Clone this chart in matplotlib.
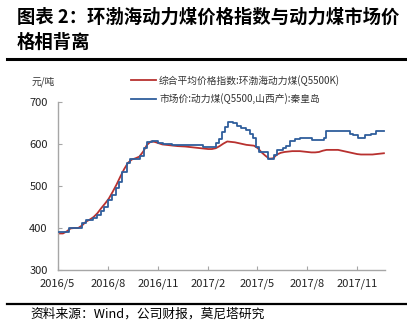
import matplotlib
matplotlib.use("Agg")
import matplotlib.pyplot as plt
import numpy as np
import pandas as pd

plt.rcParams['font.family'] = ['Noto Sans CJK SC', 'DejaVu Sans']

# ---- data ----
# Index (weekly, Wednesdays)
index_start = "2016-05-04"
index_values = [387, 387, 392, 399, 400, 400, 406, 415, 420, 426,
                435, 447, 458, 470, 486, 503, 522, 540, 555, 563,
                566, 570, 582, 598, 606, 605, 602, 599, 598, 597,
                596, 595, 594.5, 594, 593, 592, 591, 590, 589, 588,
                588, 590, 595, 601, 606, 605, 604, 602, 600, 598,
                597, 596, 590, 580, 572, 565, 566, 575, 579, 581,
                582, 583, 583, 583, 582, 581, 580, 580, 581, 584,
                586, 586, 586, 586, 584, 582, 580, 578, 576, 575,
                575, 575, 575, 576, 577, 578]

# Market price (change points, step series)
market_dates = ["2016-05-04", "2016-05-22", "2016-06-15", "2016-06-22", "2016-07-05",
                "2016-07-12", "2016-07-20", "2016-07-25", "2016-08-02", "2016-08-09",
                "2016-08-16", "2016-08-22", "2016-08-27", "2016-09-05", "2016-09-11",
                "2016-09-29", "2016-10-07", "2016-10-12", "2016-10-21", "2016-11-01",
                "2016-11-10", "2016-11-27", "2017-01-23", "2017-02-15", "2017-02-21",
                "2017-02-26", "2017-03-04", "2017-03-09", "2017-03-19", "2017-03-26",
                "2017-04-02", "2017-04-11", "2017-04-19", "2017-04-24", "2017-04-29",
                "2017-05-05", "2017-05-22", "2017-06-02", "2017-06-07", "2017-06-18",
                "2017-06-24", "2017-07-01", "2017-07-10", "2017-07-20", "2017-08-11",
                "2017-09-02", "2017-09-05", "2017-10-19", "2017-10-25", "2017-11-03",
                "2017-11-16", "2017-11-27", "2017-12-06", "2017-12-20"]
market_values = [390, 400, 413, 418, 425,
                 432, 440, 450, 467, 479,
                 495, 510, 534, 554, 564,
                 572, 590, 605, 608, 602,
                 600, 597, 592, 602, 613,
                 629, 641, 652, 649, 644,
                 639, 633, 625, 614, 594,
                 580, 564, 574, 586, 590,
                 596, 606, 612, 614, 610,
                 615, 631, 625, 621, 615,
                 621, 625, 631, 631]

series_labels = ["综合平均价格指数:环渤海动力煤(Q5500K)",
                 "市场价:动力煤(Q5500,山西产):秦皇岛"]
tick_labels = ["2016/5", "2016/8", "2016/11", "2017/2", "2017/5", "2017/8", "2017/11"]
tick_dates = ["2016-05-01", "2016-08-01", "2016-11-01", "2017-02-01",
              "2017-05-01", "2017-08-01", "2017-11-01"]
title_lines = ["图表 2：环渤海动力煤价格指数与动力煤市场价", "格相背离"]
source_text = "资料来源：Wind，公司财报，莫尼塔研究"
unit_text = "元/吨"

index_dates = pd.date_range(index_start, periods=len(index_values), freq="7D")
mdates_arr = pd.to_datetime(market_dates)

# ---- figure ----
fig = plt.figure(figsize=(4.07, 3.31), dpi=100)
W, H = 407, 331
ax = fig.add_axes([57.5 / W, 1 - 270 / H, (385 - 57.5) / W, (270 - 102) / H])

red = "#B8312F"
blue = "#2F5E9C"
ax.plot(index_dates, index_values, color=red, lw=1.3, label=series_labels[0], zorder=2)
ax.plot(mdates_arr, market_values, color=blue, lw=1.3, drawstyle="steps-post",
        label=series_labels[1], zorder=3)

ax.set_xlim(pd.Timestamp("2016-05-01"), pd.Timestamp("2017-12-22"))
ax.set_ylim(300, 700)
ax.set_yticks([300, 400, 500, 600, 700])
ax.set_xticks(pd.to_datetime(tick_dates))
ax.set_xticklabels(tick_labels)

for s in ["top", "right"]:
    ax.spines[s].set_visible(False)
for s in ["left", "bottom"]:
    ax.spines[s].set_color("#A6A6A6")
    ax.spines[s].set_linewidth(1.0)
ax.tick_params(axis="y", direction="in", length=3, color="#A6A6A6", labelsize=8, pad=7,
               labelcolor="#222222")
ax.tick_params(axis="x", direction="in", length=3, color="#A6A6A6", labelsize=8, pad=6,
               labelcolor="#222222")

# legend
leg = fig.legend(loc="upper left", bbox_to_anchor=(127 / W, 1 - 71 / H), frameon=False,
                 fontsize=7, handlelength=2.6, handletextpad=0.3, labelspacing=0.75,
                 borderaxespad=0)
for t in leg.get_texts():
    t.set_color("#333333")

# unit
fig.text(32 / W, 1 - 82 / H, unit_text, fontsize=7, color="#333333", va="center", ha="left")

# title
fig.text(17 / W, 1 - 17 / H, title_lines[0], fontsize=13.2, fontweight="bold", va="center",
         ha="left", color="black")
fig.text(17 / W, 1 - 42 / H, title_lines[1], fontsize=13.2, fontweight="bold", va="center",
         ha="left", color="black")

# rules
fig.add_artist(plt.Line2D([7 / W, 1], [1 - 59 / H, 1 - 59 / H], color="black", lw=2.2))
fig.add_artist(plt.Line2D([7 / W, 1], [1 - 304 / H, 1 - 304 / H], color="black", lw=1.6))

# source
fig.text(30 / W, 1 - 314 / H, source_text, fontsize=9.2, va="center", ha="left", color="black")

fig.savefig("out.png", dpi=100)
